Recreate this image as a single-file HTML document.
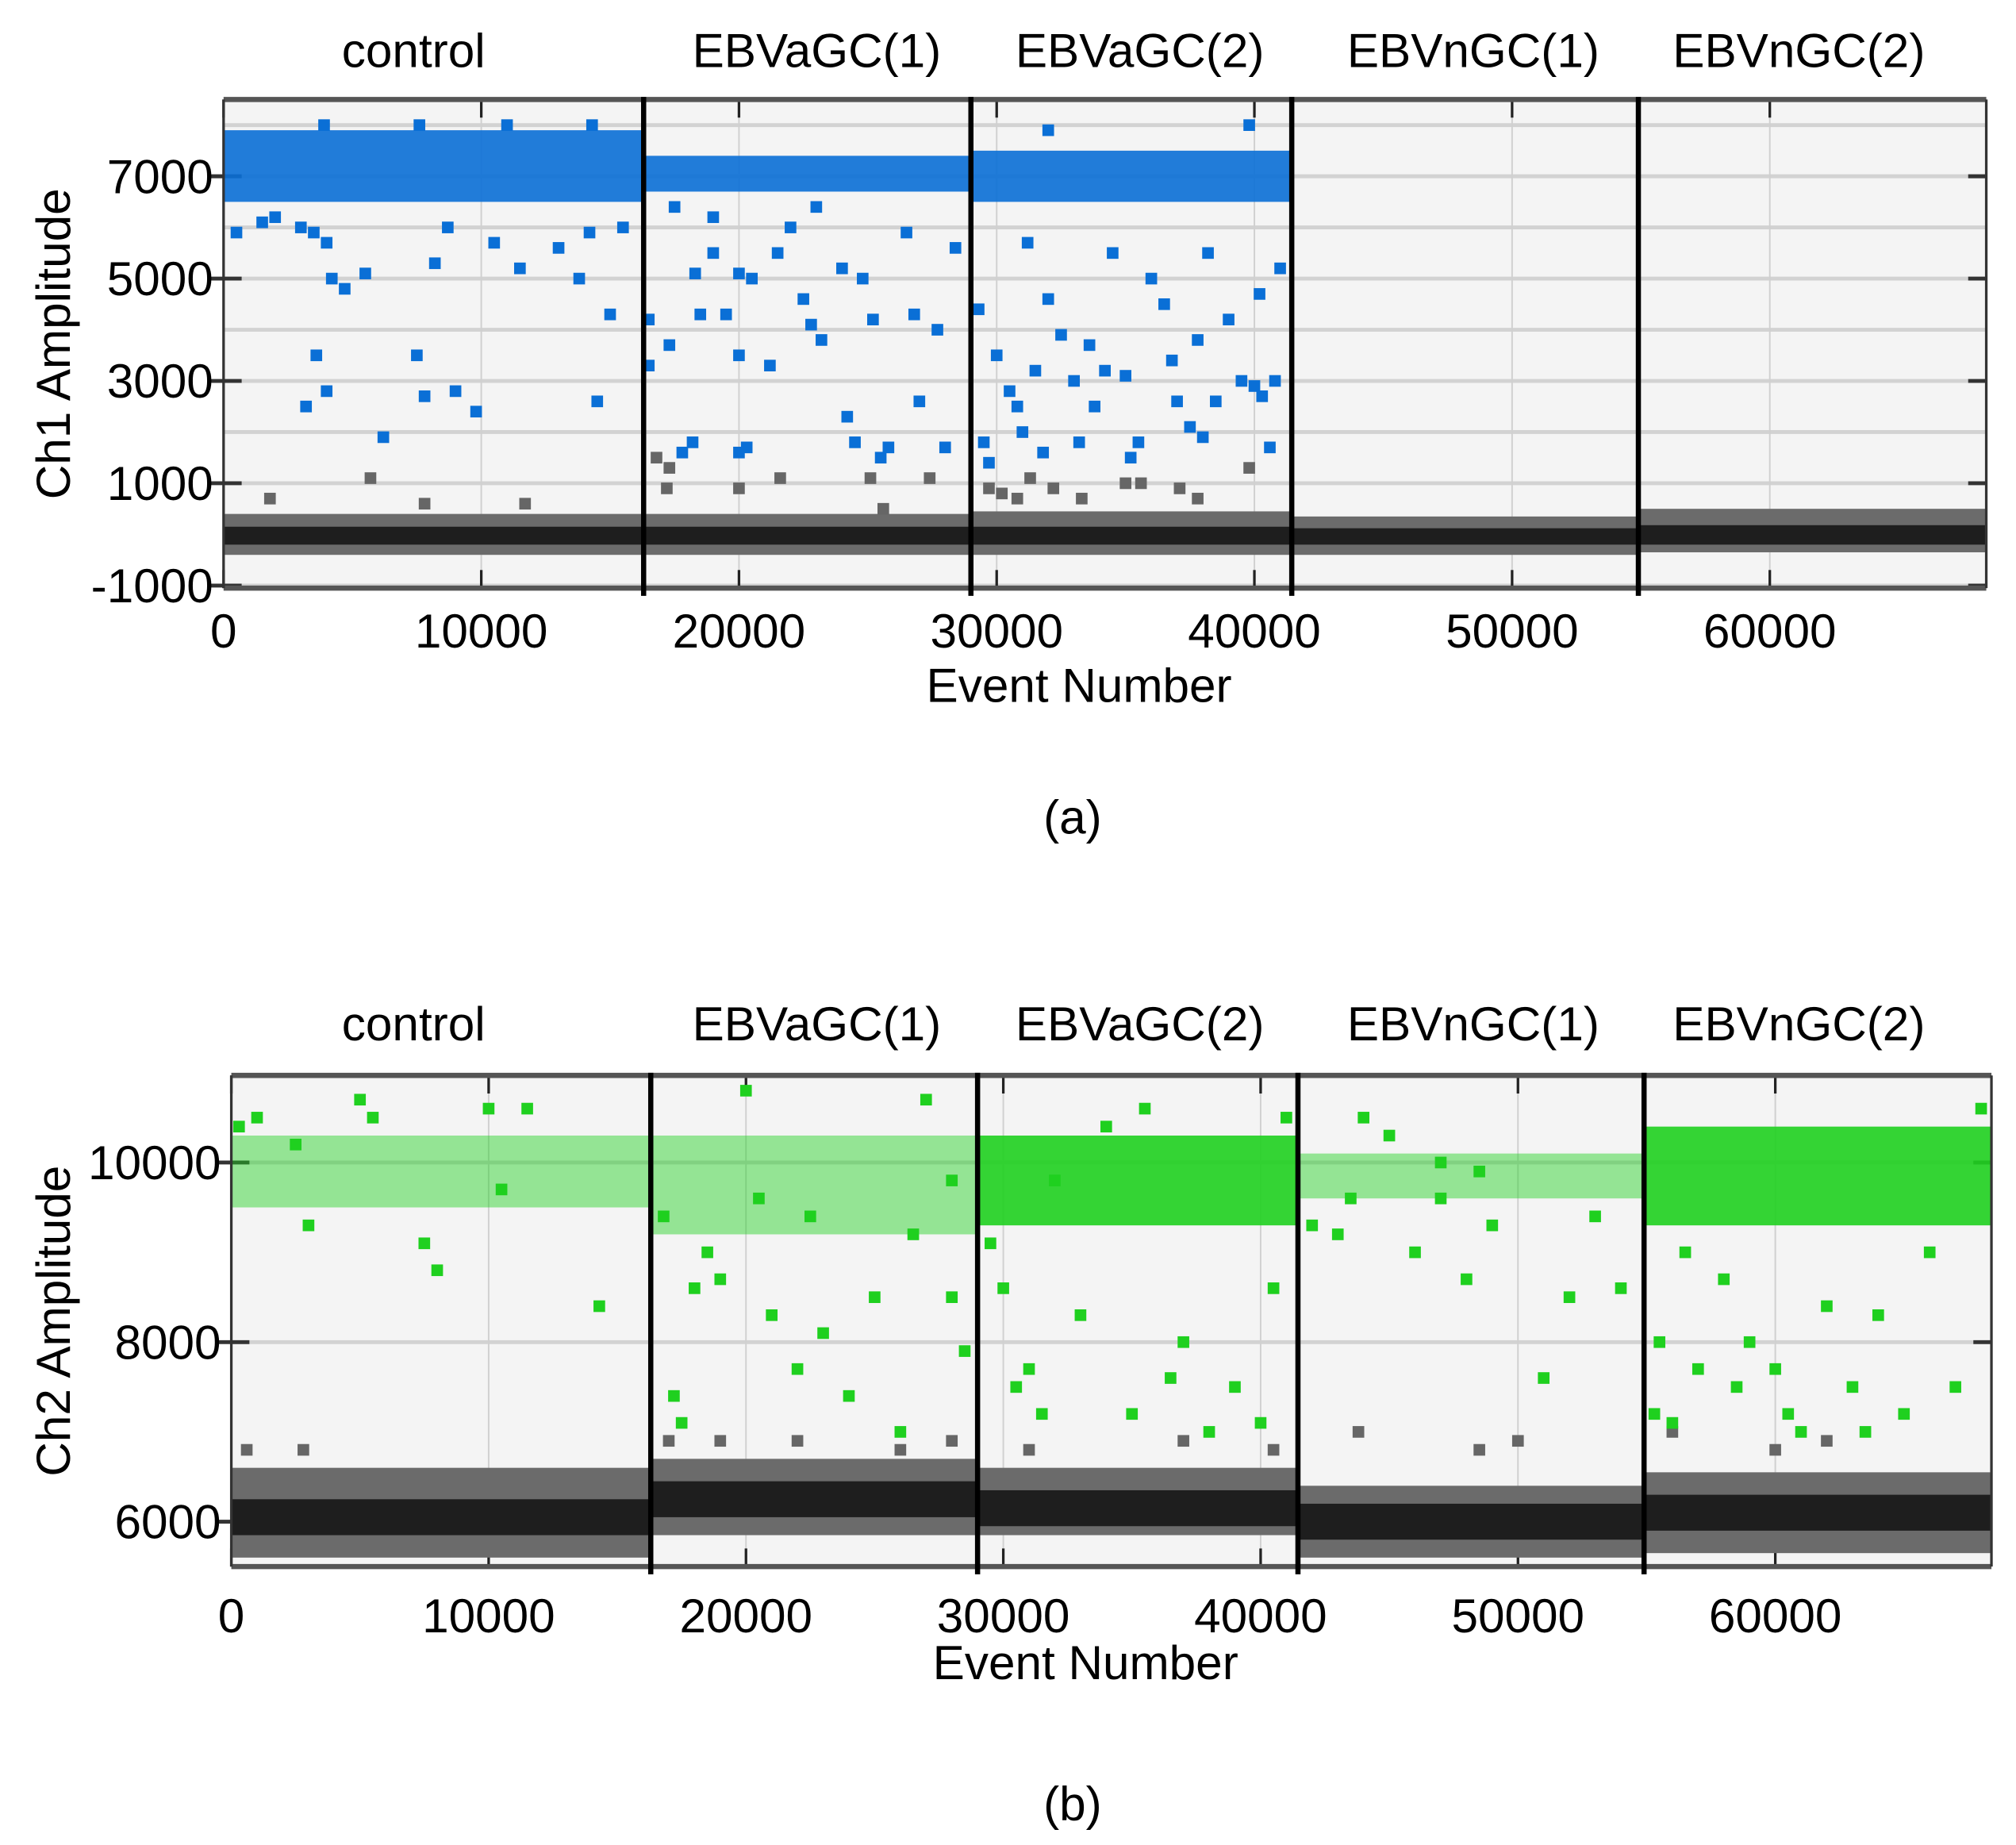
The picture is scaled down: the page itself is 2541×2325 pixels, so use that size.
<!DOCTYPE html>
<html><head><meta charset="utf-8"><style>
html,body{margin:0;padding:0;background:#fff}
svg{display:block}
text{font-family:"Liberation Sans",sans-serif;fill:#000}
</style></head><body>
<svg id="fig" xmlns="http://www.w3.org/2000/svg" width="2541" height="2325" viewBox="0 0 1560 1427.4" preserveAspectRatio="none"></svg>
<script>
// ---- data ----
const groupNames = ["control","EBVaGC(1)","EBVaGC(2)","EBVnGC(1)","EBVnGC(2)"];
const groupBounds = [0,16300,29000,41450,54900,68400];
const xTicks = [0,10000,20000,30000,40000,50000,60000];
const aPosBand = [[6500,7900],[6700,7400],[6500,7500],null,null];
const aNegBand = [[-400,400],[-400,400],[-400,450],[-400,350],[-350,500]];
const aNegCore = [[-200,150],[-200,150],[-200,150],[-200,120],[-200,180]];
const aBlueX = [500,1500,2000,3000,3500,4000,4200,4700,5500,3600,4000,3200,7500,7800,9000,9800,6200,8200,8700,10500,11500,13000,13800,14200,14500,15000,15500,16500,16500,17300,17800,18200,18500,18300,19000,19500,20000,20000,20300,20000,20500,21200,21500,22500,22800,23200,24000,24200,24500,24800,25200,25500,25800,26800,27000,27700,28000,28400,26500,23000,22000,19000,17500,29300,29500,29700,30000,30500,30800,31000,31500,31800,32000,32500,33000,33200,33600,33800,34200,35000,35200,35500,36000,36500,36800,37000,37500,37800,38000,38500,39000,39500,40000,40300,40600,40800,41000,40200,34500,38200,31200,3900,7600,11000,14300,39800,32000];
const aBlueY = [5900,6100,6200,6000,5900,5700,5000,4800,5100,3500,2800,2500,3500,2700,2800,2400,1900,5300,6000,5700,5200,5600,5000,5900,2600,4300,6000,4200,3300,3700,1600,1800,4300,5100,5500,4300,3500,1600,1700,5100,5000,3300,5500,4600,4100,3800,5200,2300,1800,5000,4200,1500,1700,4300,2600,4000,1700,5600,5900,6400,6000,6200,6400,4400,1800,1400,3500,2800,2500,2000,3200,1600,4600,3900,3000,1800,3700,2500,3200,3100,1500,1800,5000,4500,3400,2600,2100,3800,1900,2600,4200,3000,2900,2700,1700,3000,5200,4700,5500,5500,5700,8000,8000,8000,8000,8000,7900];
const aGrayX = [1800,5700,7800,11700,16800,17300,17200,21600,25100,27400,25600,29700,30200,30800,31300,32200,33300,35000,35600,37100,37800,39800,20000];
const aGrayY = [700,1100,600,600,1500,1300,900,1100,1100,1100,500,900,800,700,1100,900,700,1000,1000,900,700,1300,900];
const bPosBand = [[9500,10300],[9200,10300],[9300,10300],[9600,10100],[9300,10400]];
const bPosDense = [false,false,true,false,true];
const bNegBand = [[5600,6600],[5850,6700],[5850,6600],[5600,6400],[5650,6550]];
const bNegCore = [[5850,6250],[6050,6450],[5950,6350],[5800,6200],[5900,6300]];
const bGreenX = [300,1000,2500,3000,5000,5500,7500,8000,10000,10500,11500,14300,16800,17200,17500,18000,18500,19000,20000,21000,22000,23000,24000,25000,26000,27000,28000,28500,29500,30000,30500,31000,31500,32000,33000,34000,35000,35500,36500,37000,38000,39000,40000,40500,41000,42000,43000,44000,45000,46000,47000,48000,49000,51000,52000,53000,54000,55300,55500,56000,56500,57000,58000,58500,59000,60000,60500,61000,62000,63000,63500,64000,65000,66000,67000,68000,47000,43500,48500,28000,26500,22500,20500];
const bGreenY = [10400,10500,10200,9300,10700,10500,9100,8800,10600,9700,10600,8400,9400,7400,7100,8600,9000,8700,10800,8300,7700,8100,7400,8500,7000,10700,8500,7900,9100,8600,7500,7700,7200,9800,8300,10400,7200,10600,7600,8000,7000,7500,7100,8600,10500,9300,9200,10500,10300,9000,9600,8700,9300,7600,8500,9400,8600,7200,8000,7100,9000,7700,8700,7500,8000,7700,7200,7000,8400,7500,7000,8300,7200,9000,7500,10600,10000,9600,9900,9800,9200,9400,9600];
const bGrayX = [600,2800,17000,19000,22000,26000,28000,31000,37000,40500,43800,48500,50000,56000,60000,62000];
const bGrayY = [6800,6800,6900,6900,6900,6800,6900,6800,6900,6800,7000,6800,6900,7000,6800,6900];

// ---- drawing ----
const NS="http://www.w3.org/2000/svg";
const svg=document.getElementById('fig');
function el(tag,attrs,parent){const e=document.createElementNS(NS,tag);for(const k in attrs)e.setAttribute(k,attrs[k]);(parent||svg).appendChild(e);return e;}
function txt(s,x,y,size,anchor,parent){const t=el('text',{x:x,y:y,'font-size':size,'text-anchor':anchor||'middle'},parent);t.textContent=s;return t;}

function panel(cfg){
  const g=el('g',{});
  
  
  const L=cfg.L,R=cfg.R,T=cfg.T,B=cfg.B;
  const xs=v=>L+(v-0)/(68400)*(R-L);
  const ys=v=>B-(v-cfg.ymin)/(cfg.ymax-cfg.ymin)*(B-T);
  const bg=el('rect',{x:L,y:T,width:R-L,height:B-T,fill:'#f4f4f4'},g);
  
  cfg.gridY.forEach(v=>{el('line',{x1:L,x2:R,y1:ys(v),y2:ys(v),stroke:'#d2d2d2','stroke-width':3},g);});
  xTicks.forEach(v=>{el('line',{x1:xs(v),x2:xs(v),y1:T,y2:B,stroke:'#d0d0d0','stroke-width':1.2},g);
    el('line',{x1:xs(v),x2:xs(v),y1:T,y2:T+14,stroke:'#222','stroke-width':2},g);
    el('line',{x1:xs(v),x2:xs(v),y1:B-14,y2:B,stroke:'#222','stroke-width':2},g);});
  cfg.tickY.forEach(v=>{el('line',{x1:L-10,x2:L+14,y1:ys(v),y2:ys(v),stroke:'#333','stroke-width':3},g);
    el('line',{x1:R-14,x2:R,y1:ys(v),y2:ys(v),stroke:'#333','stroke-width':3},g);});
  for(let i=0;i<5;i++){
    const x0=xs(groupBounds[i]),x1=xs(groupBounds[i+1]);
    const nb=cfg.negBand[i],nc=cfg.negCore[i];
    const r1=el('rect',{x:x0,y:ys(nb[1]),width:x1-x0,height:ys(nb[0])-ys(nb[1]),fill:'#6b6b6b'},g);
    
    const r2=el('rect',{x:x0,y:ys(nc[1]),width:x1-x0,height:ys(nc[0])-ys(nc[1]),fill:'#1e1e1e'},g);
    
    const pb=cfg.posBand[i];
    if(pb){const dense=cfg.posDense?cfg.posDense[i]:true;
      const r3=el('rect',{x:x0,y:ys(pb[1]),width:x1-x0,height:ys(pb[0])-ys(pb[1]),fill:cfg.color,opacity:dense?0.9:0.45},g);
      }
  }
  const s=9;
  cfg.grayX.forEach((v,i)=>{const p=el('rect',{x:xs(v)-s/2,y:ys(cfg.grayY[i])-s/2,width:s,height:s,fill:'#666'},g);
    });
  cfg.ptX.forEach((v,i)=>{const p=el('rect',{x:xs(v)-s/2,y:ys(cfg.ptY[i])-s/2,width:s,height:s,fill:cfg.color},g);
    });
  el('line',{x1:L,x2:R,y1:T,y2:T,stroke:'#555','stroke-width':4},g);
  el('line',{x1:L,x2:R,y1:B,y2:B,stroke:'#555','stroke-width':4},g);
  el('line',{x1:L,x2:L,y1:T,y2:B,stroke:'#333','stroke-width':2},g);
  el('line',{x1:R,x2:R,y1:T,y2:B,stroke:'#333','stroke-width':2},g);
  for(let i=1;i<5;i++){const d=el('line',{x1:xs(groupBounds[i]),x2:xs(groupBounds[i]),y1:T-2,y2:B+6,stroke:'#000','stroke-width':4},g);
    }
  cfg.tickY.forEach(v=>{const t=txt(String(v),L-8,ys(v)+13,37,'end',g);});
  xTicks.forEach(v=>{const t=txt(String(v),xs(v),cfg.xLabY,37,'middle',g);});
  const xt=txt('Event Number',(L+R)/2-20,cfg.xTitleY,37,'middle',g);
  const yt=txt(cfg.yTitle,0,0,37,'middle',g);yt.setAttribute('transform','translate('+cfg.yTitleX+','+(T+B)/2+') rotate(-90)');
  
  const cx=[320,632,882,1140,1392];
  groupNames.forEach((n,i)=>{const t=txt(n,cx[i],cfg.titleY,37,'middle',g);});
  const c=txt(cfg.caption,830,cfg.capY,37,'middle',g);
}
panel({name:'panel-a-ch1',L:173,R:1537,T:77,B:455,ymin:-1050,ymax:8500,color:'#0a6fd6',
  gridY:[-1000,0,1000,2000,3000,4000,5000,6000,7000,8000],tickY:[-1000,1000,3000,5000,7000],
  posBand:aPosBand,negBand:aNegBand,negCore:aNegCore,ptX:aBlueX,ptY:aBlueY,grayX:aGrayX,grayY:aGrayY,
  xLabY:501,xTitleY:543,yTitle:'Ch1 Amplitude',yTitleX:54,titleY:52,caption:'(a)',capY:645});
panel({name:'panel-b-ch2',L:179,R:1541,T:832,B:1212,ymin:5500,ymax:10970,color:'#1fd01f',
  gridY:[6000,8000,10000],tickY:[6000,8000,10000],
  posBand:bPosBand,posDense:bPosDense,negBand:bNegBand,negCore:bNegCore,ptX:bGreenX,ptY:bGreenY,grayX:bGrayX,grayY:bGrayY,
  xLabY:1263,xTitleY:1299,yTitle:'Ch2 Amplitude',yTitleX:54,titleY:805,caption:'(b)',capY:1408});
</script>
</body></html>
